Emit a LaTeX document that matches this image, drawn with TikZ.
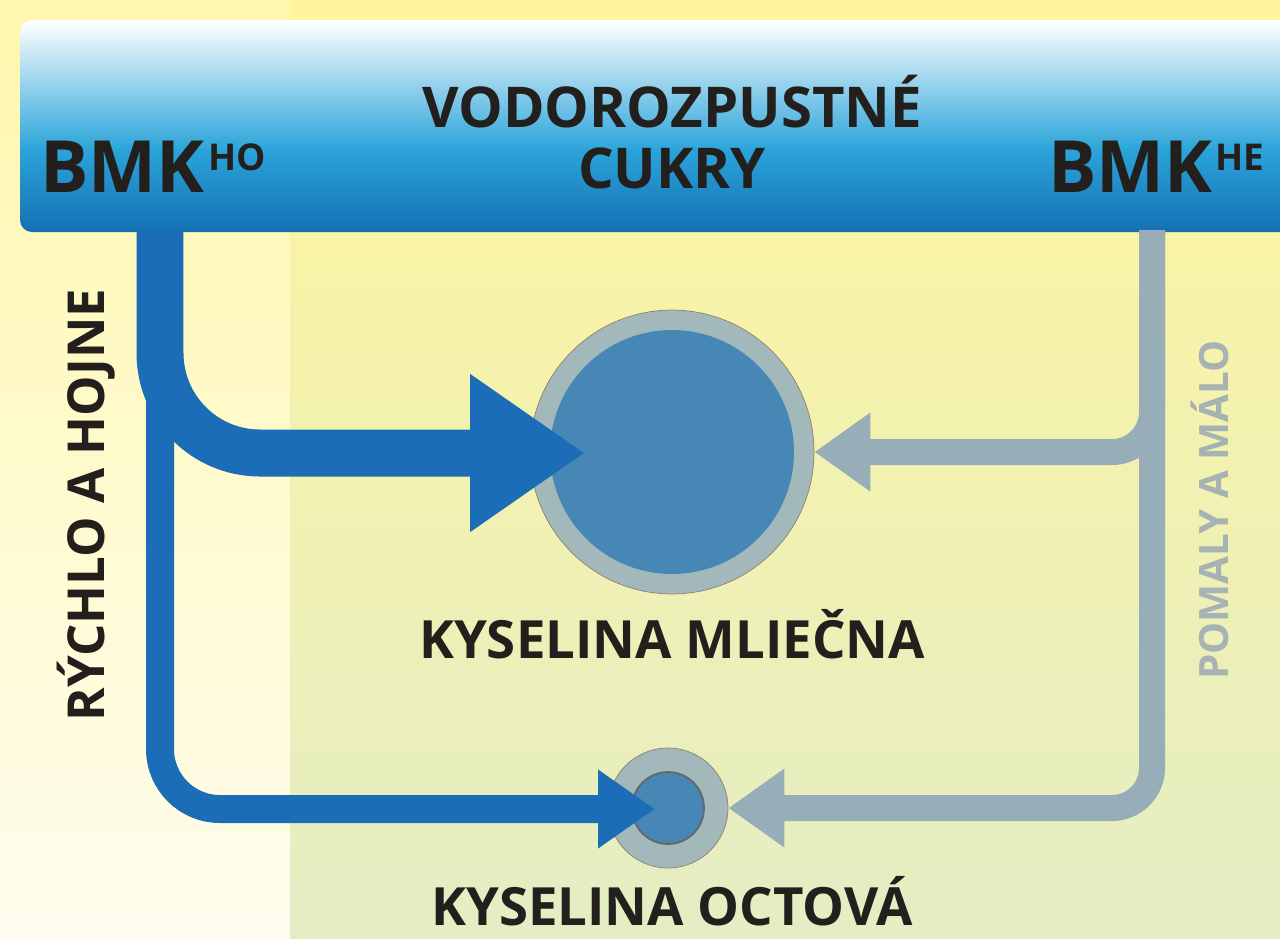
\documentclass[tikz,border=0pt]{standalone}
\usepackage{fontspec}
\setmainfont{Open Sans}
\usetikzlibrary{arrows.meta,shapes,positioning}

\definecolor{bgyellow}{HTML}{FFF7AC}
\definecolor{bgpale}{HTML}{FFFDEE}
\definecolor{bgpanel}{HTML}{FFF59C}
\definecolor{bggreen}{HTML}{E4EDC4}
\definecolor{barmid}{HTML}{2BA4DA}
\definecolor{barbot}{HTML}{1570B4}
\definecolor{fastblue}{HTML}{1A6DB6}
\definecolor{slowgray}{HTML}{97AEB9}
\definecolor{ringgray}{HTML}{A3B8BA}
\definecolor{coreblue}{HTML}{4787B5}
\definecolor{txtdark}{HTML}{231F1C}
\definecolor{txtgray}{HTML}{A7B2B3}

\begin{document}
\begin{tikzpicture}[x=0.02cm,y=-0.02cm,
    lbl/.style={inner sep=0pt,text=txtdark,font=\bfseries\fontsize{30}{35}\selectfont},
    big/.style={font=\bfseries\fontsize{41}{41}\selectfont},
    fast/.style={draw=fastblue,line cap=butt},
    slow/.style={draw=slowgray,line cap=butt}]

    % background
    \useasboundingbox (0,0) rectangle (1280,938);
    \shade[top color=bgyellow,bottom color=bgpale] (0,0) rectangle (290,938);
    \shade[top color=bgpanel,bottom color=bggreen] (290,0) rectangle (1280,938);

    % sugar bar
    \begin{scope}
        \clip[rounded corners=0.24cm] (20,20) rectangle (1300,232);
        \shade[top color=white,bottom color=barmid] (0,20) rectangle (1300,150);
        \shade[top color=barmid,bottom color=barbot] (0,149) rectangle (1300,232);
    \end{scope}
    \node[lbl,align=center,font=\bfseries\fontsize{32}{35}\selectfont] (sug) at (672,132) {VODOROZPUSTNÉ\\CUKRY};
    \node[lbl,big,anchor=base west] (ho) at (40,192)
        {BMK\kern2pt{\fontsize{21}{21}\selectfont\raisebox{12.5pt}{HO}}};
    \node[lbl,big,anchor=base east] (he) at (1265,192)
        {BMK\kern2pt{\fontsize{21}{21}\selectfont\raisebox{12.5pt}{HE}}};

    % acids
    \begin{scope}[every node/.style={circle,inner sep=0pt}]
        \node[fill=ringgray,draw=gray!70!brown,line width=0.4pt,minimum size=5.68cm] (lac) at (672,452) {};
        \node[fill=coreblue,minimum size=4.88cm] (lacc) at (lac.center) {};
        \node[fill=ringgray,draw=gray!70!brown,line width=0.4pt,minimum size=2.4cm] (ace) at (668,808) {};
        \node[fill=coreblue,draw=gray!80!black,line width=1pt,minimum size=1.44cm] (acec) at (ace.center) {};
    \end{scope}
    \node[lbl,anchor=base] (laclbl) at (672,658) {KYSELINA MLIEČNA};
    \node[lbl,anchor=base] (acelbl) at (672,925) {KYSELINA OCTOVÁ};

    % pipes
    \coordinate (hoA) at (160,230);
    \coordinate (heA) at (1152,230);
    \coordinate (hoTip) at (585,453);
    \coordinate (hoTip2) at (655,809);

    \draw[slow,line width=0.52cm,rounded corners=0.8cm,-{Triangle[length=1.12cm,width=1.5cm]}]
        (heA) |- (lac.east);
    \draw[slow,line width=0.52cm,rounded corners=0.8cm,-{Triangle[length=1.12cm,width=1.5cm]}]
        (heA) |- (ace.east);
    \draw[fast,line width=0.56cm,rounded corners=1.2cm,-{Triangle[length=1.14cm,width=1.5cm]}]
        (hoA) |- (hoTip2);
    \draw[fast,line width=0.94cm,rounded corners=2cm,-{Triangle[length=2.3cm,width=3cm]}]
        (hoA) |- (hoTip);

    % rates
    \node[lbl,rotate=90,font=\bfseries\fontsize{29}{29}\selectfont] (quick) at (86,505) {RÝCHLO A HOJNE};
    \node[lbl,rotate=90,text=txtgray,font=\bfseries\fontsize{23}{23}\selectfont] (slowly) at (1210,510) {POMALY A MÁLO};
\end{tikzpicture}
\end{document}
